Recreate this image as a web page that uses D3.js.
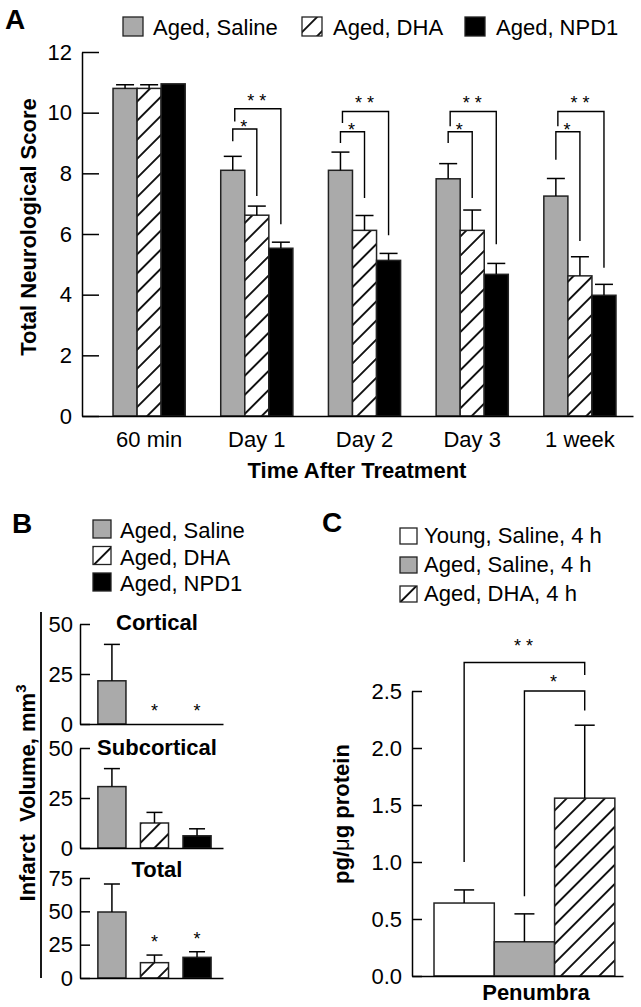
<!DOCTYPE html>
<html>
<head>
<meta charset="utf-8">
<script src="https://cdn.jsdelivr.net/npm/d3@7"></script>
<style>
body { margin: 0; background: #fff; }
svg text { font-family: Arial, "Liberation Sans", sans-serif; fill: #000; }
.bold { font-weight: bold; }
</style>
</head>
<body>
<svg id="fig" width="641" height="1007"></svg>
<script>
// ---- data: panel A (neurological score)
var timeLabels = ["60 min", "Day 1", "Day 2", "Day 3", "1 week"];
var groupsA = ["Aged, Saline", "Aged, DHA", "Aged, NPD1"];
var salineA = [10.8, 8.1, 8.1, 7.82, 7.25];
var salineErrA = [0.12, 0.46, 0.6, 0.5, 0.58];
var dhaA = [10.8, 6.62, 6.12, 6.12, 4.62];
var dhaErrA = [0.12, 0.3, 0.49, 0.67, 0.63];
var npd1A = [10.95, 5.53, 5.13, 4.67, 3.98];
var npd1ErrA = [0, 0.2, 0.23, 0.36, 0.36];
var scoreTicks = [0, 2, 4, 6, 8, 10, 12];
// significance brackets (score units), for Day 1 .. 1 week
var sigGroupsA = [1, 2, 3, 4];
var starTopA = [9.46, 9.37, 9.37, 9.37];
var starLeftA = [9.06, 9.0, 9.0, 8.45];
var starRightA = [7.25, 7.19, 7.19, 5.77];
var dstarTopA = [10.13, 10.04, 10.04, 10.04];
var dstarLeftA = [9.71, 9.66, 9.55, 9.55];
var dstarRightA = [6.32, 5.96, 5.66, 4.89];

// ---- data: panel B (infarct volume)
var regionsB = ["Cortical", "Subcortical", "Total"];
var infarctB = [[21.6, 0, 0], [30.7, 12.5, 6.1], [49.5, 11.5, 15.5]];
var infarctErrB = [[18.2, 0, 0], [9, 5.3, 3.5], [21, 5.7, 4.2]];
var infarctMaxB = [50, 50, 75];
var infarctTicksB = [[0, 25, 50], [0, 25, 50], [0, 25, 50, 75]];
var starsB = [[false, true, true], [false, false, false], [false, true, true]];

// ---- data: panel C (penumbra)
var groupsC = ["Young, Saline, 4 h", "Aged, Saline, 4 h", "Aged, DHA, 4 h"];
var penumbraC = [0.64, 0.30, 1.56];
var penumbraErrC = [0.115, 0.245, 0.64];
var penumbraTicks = [0, 0.5, 1.0, 1.5, 2.0, 2.5];
var sigC = [
	{from: 0, to: 2, top: 2.75, left: 1.0, right: 2.64, label: "**"},
	{from: 1, to: 2, top: 2.5, left: 0.70, right: 2.33, label: "*"}
];

var grey = "#aaaaaa";
var outline = "#222";
var fillsA = [grey, "url(#hatch)", "#000"];
var fillsC = ["#fff", grey, "url(#hatch)"];

var svg = d3.select("#fig");

var hatchSize = 13.5;
var pat = svg.append("defs").append("pattern")
.attr("id", "hatch")
.attr("patternUnits", "userSpaceOnUse")
.attr("width", hatchSize)
.attr("height", hatchSize)
.attr("patternTransform", "rotate(45)");
pat.append("rect")
.attr("width", hatchSize)
.attr("height", hatchSize)
.attr("fill", "#fff");
pat.append("line")
.attr("x1", hatchSize/2).attr("x2", hatchSize/2)
.attr("y1", 0).attr("y2", hatchSize)
.attr("stroke", "#000")
.attr("stroke-width", 1.8);

function errorBar(g, x, y0, y1, capW) {
	g.append("line")
	.attr("x1", x).attr("x2", x)
	.attr("y1", y0).attr("y2", y1)
	.attr("stroke", "#000").attr("stroke-width", 1.5);
	g.append("line")
	.attr("x1", x-capW/2).attr("x2", x+capW/2)
	.attr("y1", y1).attr("y2", y1)
	.attr("stroke", "#000").attr("stroke-width", 1.5);
}

// star label: one text per asterisk so the spacing matches
function stars(g, cx, cy, label) {
	var n = label.length, gap = 12;
	for (var i = 0; i < n; i++) {
		g.append("text")
		.attr("x", cx + (i - (n-1)/2)*gap)
		.attr("y", cy + 10)
		.attr("text-anchor", "middle")
		.style("font-size", "18px")
		.text("*");
	}
}

function bracket(g, xl, yl, xr, yr, yt, label, gap) {
	g.append("path")
	.attr("d", "M"+[xl,yl]+"V"+yt+"H"+xr+"V"+yr)
	.attr("fill", "none")
	.attr("stroke", "#000")
	.attr("stroke-width", 1.4);
	stars(g, (xl+xr)/2 - 1, yt - gap, label);
}

function styleAxis(g) {
	g.selectAll("path, line").attr("stroke", "#000").attr("stroke-width", 1.5);
	g.selectAll("text").attr("fill", "#000").style("font-size", "22px")
	.style("font-family", "Arial, 'Liberation Sans', sans-serif");
}

// ================= panel A
var gA = svg.append("g");
gA.append("text").attr("class", "bold")
.attr("x", 5).attr("y", 29)
.style("font-size", "28px")
.text("A");

var legA = [[123, 153], [302, 333], [465, 496]];
groupsA.forEach(function(name, j) {
	gA.append("rect")
	.attr("x", legA[j][0]).attr("y", 17)
	.attr("width", 20).attr("height", 19)
	.attr("fill", fillsA[j])
	.attr("stroke", outline).attr("stroke-width", 1.3);
	gA.append("text")
	.attr("x", legA[j][1]).attr("y", 35)
	.style("font-size", "22px")
	.text(name);
});

var xA = d3.scaleBand().domain(timeLabels)
.range([82, 633]).paddingInner(0.33).paddingOuter(0.223).align(0.646);
var x1A = d3.scaleBand().domain([0, 1, 2]).range([0, xA.bandwidth()]);
var yA = d3.scaleLinear().domain([0, 12]).range([416, 52]);

var seriesA = [salineA, dhaA, npd1A];
var errA = [salineErrA, dhaErrA, npd1ErrA];
var rowsA = [];
timeLabels.forEach(function(t, i) {
	seriesA.forEach(function(s, j) {
		rowsA.push({t: t, k: j, v: s[i], e: errA[j][i]});
	});
});

gA.selectAll("rect.bar").data(rowsA).enter().append("rect")
.attr("class", "bar")
.attr("x", function(d) { return xA(d.t) + x1A(d.k); })
.attr("y", function(d) { return yA(d.v); })
.attr("width", x1A.bandwidth())
.attr("height", function(d) { return yA(0) - yA(d.v); })
.attr("fill", function(d) { return fillsA[d.k]; })
.attr("stroke", outline)
.attr("stroke-width", 1.5);

rowsA.forEach(function(d) {
	if (d.e > 0) {
		var cx = xA(d.t) + x1A(d.k) + x1A.bandwidth()/2;
		errorBar(gA, cx, yA(d.v), yA(d.v + d.e), 18);
	}
});

function cxA(i, k) { return xA(timeLabels[i]) + x1A(k) + x1A.bandwidth()/2; }
sigGroupsA.forEach(function(i, n) {
	bracket(gA, cxA(i, 0), yA(starLeftA[n]), cxA(i, 1), yA(starRightA[n]), yA(starTopA[n]), "*", 6);
	bracket(gA, cxA(i, 0)+2, yA(dstarLeftA[n]), cxA(i, 2), yA(dstarRightA[n]), yA(dstarTopA[n]), "**", 12);
});

gA.append("g")
.attr("transform", "translate(82,0)")
.call(d3.axisLeft(yA).tickValues(scoreTicks).tickSizeInner(-17).tickSizeOuter(0).tickPadding(10))
.call(styleAxis);

gA.append("g")
.attr("transform", "translate(0,416)")
.call(d3.axisBottom(xA).tickSize(0).tickPadding(15))
.call(styleAxis);

gA.append("text").attr("class", "bold")
.attr("x", 357).attr("y", 478)
.attr("text-anchor", "middle")
.style("font-size", "22px")
.text("Time After Treatment");

gA.append("text").attr("class", "bold")
.attr("transform", "translate(36,227) rotate(-90)")
.attr("text-anchor", "middle")
.style("font-size", "22px")
.text("Total Neurological Score");

// ================= panel B
var gB = svg.append("g");
gB.append("text").attr("class", "bold")
.attr("x", 12).attr("y", 533)
.style("font-size", "28px")
.text("B");

groupsA.forEach(function(name, j) {
	gB.append("rect")
	.attr("x", 93).attr("y", 520 + j*26.5)
	.attr("width", 18).attr("height", 18)
	.attr("fill", fillsA[j])
	.attr("stroke", outline).attr("stroke-width", 1.3);
	gB.append("text")
	.attr("x", 120).attr("y", 538 + j*26.5)
	.style("font-size", "22px")
	.text(name);
});

var xB = d3.scaleBand().domain([0, 1, 2])
.range([80, 223]).paddingInner(0.34).paddingOuter(0.35).align(0.6);
var baseB = [724, 848, 978];

regionsB.forEach(function(region, r) {
	var yB = d3.scaleLinear().domain([0, infarctMaxB[r]])
	.range([baseB[r], baseB[r] - 100]);
	var g = gB.append("g");
	infarctB[r].forEach(function(v, k) {
		var cx = xB(k) + xB.bandwidth()/2;
		if (v > 0) {
			g.append("rect")
			.attr("x", xB(k)).attr("y", yB(v))
			.attr("width", xB.bandwidth())
			.attr("height", yB(0) - yB(v))
			.attr("fill", fillsA[k])
			.attr("stroke", outline).attr("stroke-width", 1.5);
			errorBar(g, cx, yB(v), yB(v + infarctErrB[r][k]), 16);
		}
		if (starsB[r][k]) {
			stars(g, cx, yB(v + infarctErrB[r][k]) - 17, "*");
		}
	});
	g.append("g")
	.attr("transform", "translate(80,0)")
	.call(d3.axisLeft(yB).tickValues(infarctTicksB[r]).tickSizeInner(-10).tickSizeOuter(0).tickPadding(7))
	.call(styleAxis);
	g.append("g")
	.attr("transform", "translate(0," + baseB[r] + ")")
	.call(d3.axisBottom(xB).tickSize(0).tickFormat(""))
	.call(styleAxis);
	g.append("text").attr("class", "bold")
	.attr("x", 157).attr("y", [630, 755, 877][r])
	.attr("text-anchor", "middle")
	.style("font-size", "22px")
	.text(region);
});

gB.append("line")
.attr("x1", 41).attr("x2", 41)
.attr("y1", 612).attr("y2", 978)
.attr("stroke", "#000").attr("stroke-width", 1.8);

var titleB = gB.append("text").attr("class", "bold")
.attr("transform", "translate(35,793) rotate(-90)")
.attr("text-anchor", "middle")
.style("font-size", "22px");
titleB.append("tspan").text("Infarct\u00a0\u00a0Volume, mm");
titleB.append("tspan").attr("dy", -9).style("font-size", "15px").text("3");

// ================= panel C
var gC = svg.append("g");
gC.append("text").attr("class", "bold")
.attr("x", 322).attr("y", 532)
.style("font-size", "28px")
.text("C");

groupsC.forEach(function(name, j) {
	gC.append("rect")
	.attr("x", 400).attr("y", 528 + j*29)
	.attr("width", 17).attr("height", 16)
	.attr("fill", fillsC[j])
	.attr("stroke", outline).attr("stroke-width", 1.3);
	gC.append("text")
	.attr("x", 424).attr("y", 543 + j*29)
	.style("font-size", "22px")
	.text(name);
});

var xC = d3.scaleBand().domain(groupsC)
.range([412, 623]).paddingInner(0).paddingOuter(0.25).align(0.73);
var yC = d3.scaleLinear().domain([0, 2.5]).range([976, 691]);

gC.selectAll("rect.bar").data(penumbraC).enter().append("rect")
.attr("class", "bar")
.attr("x", function(d, i) { return xC(groupsC[i]); })
.attr("y", function(d) { return yC(d); })
.attr("width", xC.bandwidth())
.attr("height", function(d) { return yC(0) - yC(d); })
.attr("fill", function(d, i) { return fillsC[i]; })
.attr("stroke", outline)
.attr("stroke-width", 1.5);

function cxC(i) { return xC(groupsC[i]) + xC.bandwidth()/2; }
penumbraC.forEach(function(v, i) {
	errorBar(gC, cxC(i), yC(v), yC(v + penumbraErrC[i]), 20);
});
sigC.forEach(function(s) {
	bracket(gC, cxC(s.from), yC(s.left), cxC(s.to), yC(s.right), yC(s.top), s.label, s.label.length > 1 ? 21 : 13);
});

gC.append("g")
.attr("transform", "translate(412,0)")
.call(d3.axisLeft(yC).tickValues(penumbraTicks).tickFormat(d3.format(".1f"))
	.tickSizeInner(-10).tickSizeOuter(0).tickPadding(10))
.call(styleAxis);
gC.append("g")
.attr("transform", "translate(0,976)")
.call(d3.axisBottom(xC).tickSize(0).tickFormat(""))
.call(styleAxis);

gC.append("text").attr("class", "bold")
.attr("x", 536).attr("y", 1000)
.attr("text-anchor", "middle")
.style("font-size", "22px")
.text("Penumbra");

var titleC = gC.append("text")
.attr("transform", "translate(349,814) rotate(-90)")
.attr("text-anchor", "middle")
.style("font-size", "22px");
titleC.append("tspan").attr("class", "bold").text("pg/");
titleC.append("tspan").text("\u03bc");
titleC.append("tspan").attr("class", "bold").text("g protein");
</script>
</body>
</html>
